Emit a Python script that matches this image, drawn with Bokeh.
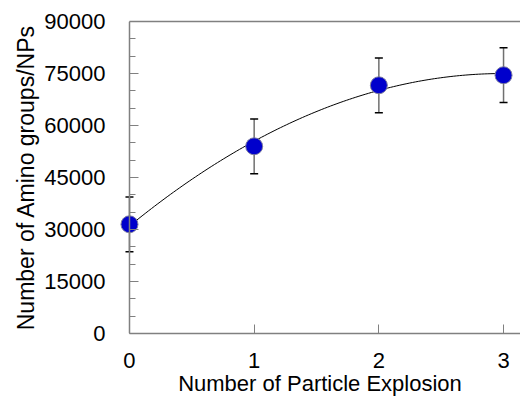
import numpy as np
from bokeh.plotting import figure
from bokeh.models import (ColumnDataSource, Whisker, TeeHead, FixedTicker,
                          SingleIntervalTicker, LinearAxis, Range1d,
                          CustomLabelingPolicy)
from bokeh.embed import file_html
from bokeh.resources import INLINE

# ---- data ----
explosions = [0, 1, 2, 3]
amino_groups = [31500, 54000, 71600, 74500]
errors = [7900, 7900, 7900, 7900]
x_ticks = [0, 1, 2, 3]
x_title = "Number of Particle Explosion"
y_title = "Number of Amino groups/NPs"

FONT = "Liberation Sans"
axis_color = "#808080"

p = figure(width=520, height=398, output_backend="svg", toolbar_location=None,
           x_range=Range1d(-0.08, 3.136), y_range=Range1d(0, 90000),
           min_border_left=119, min_border_right=0, min_border_top=21,
           min_border_bottom=64, x_axis_type=None, y_axis_type=None)
p.outline_line_color = None
p.grid.visible = False
p.background_fill_color = "white"
p.border_fill_color = "white"


def style(ax):
    ax.axis_line_color = axis_color
    ax.axis_line_width = 1.5
    ax.major_tick_line_color = axis_color
    ax.minor_tick_line_color = axis_color
    ax.major_tick_in = 9
    ax.major_tick_out = 0
    ax.minor_tick_in = 6
    ax.minor_tick_out = 0
    ax.major_label_text_font = FONT
    ax.major_label_text_font_size = "22px"
    ax.major_label_text_color = "black"
    ax.axis_label_text_font = FONT
    ax.axis_label_text_font_size = "22px"
    ax.axis_label_text_font_style = "normal"
    ax.axis_label_text_color = "black"


no_labels = CustomLabelingPolicy(code="return new Set()")

# bottom axis
xa = LinearAxis(ticker=FixedTicker(ticks=x_ticks), bounds=(0, 3.136))
style(xa)
xa.axis_label = x_title
xa.minor_tick_line_color = None
xa.major_label_standoff = 19
xa.axis_label_standoff = 0
p.add_layout(xa, "below")

# y axis line + ticks placed at x = 0
yticker = SingleIntervalTicker(interval=15000, num_minor_ticks=3)
yl = LinearAxis(ticker=yticker)
style(yl)
yl.fixed_location = 0
yl.major_label_policy = no_labels
yl.major_label_standoff = 0
p.add_layout(yl, "left")

# y axis labels + title
ya = LinearAxis(ticker=yticker)
style(ya)
ya.axis_line_color = None
ya.major_tick_line_color = None
ya.minor_tick_line_color = None
ya.axis_label = y_title
ya.axis_label_text_font_size = "23px"
ya.major_label_standoff = 14
ya.axis_label_standoff = 2
p.add_layout(ya, "left")

# top border
top = LinearAxis(bounds=(0, 3.136), ticker=FixedTicker(ticks=[]))
top.axis_line_color = axis_color
top.axis_line_width = 1.5
top.major_label_policy = no_labels
top.major_tick_line_color = None
top.minor_tick_line_color = None
p.add_layout(top, "above")

# trend line: quadratic fit to the data
coef = np.polyfit(explosions, amino_groups, 2)
xs = np.linspace(explosions[0], explosions[-1], 120)
p.line(xs, np.polyval(coef, xs), line_color="black", line_width=1)

src = ColumnDataSource(dict(
    x=explosions, y=amino_groups,
    lo=[a - e for a, e in zip(amino_groups, errors)],
    hi=[a + e for a, e in zip(amino_groups, errors)],
))
w = Whisker(source=src, base="x", upper="hi", lower="lo", dimension="height",
            line_color="#707070", line_width=1.5,
            upper_head=TeeHead(size=8, line_color="black", line_width=1.5),
            lower_head=TeeHead(size=8, line_color="black", line_width=1.5))
p.add_layout(w)

p.scatter("x", "y", source=src, size=17, fill_color="#0000CC",
          line_color="#7f7f9f", line_width=1)

open("out.html", "w").write(file_html(p, INLINE))
